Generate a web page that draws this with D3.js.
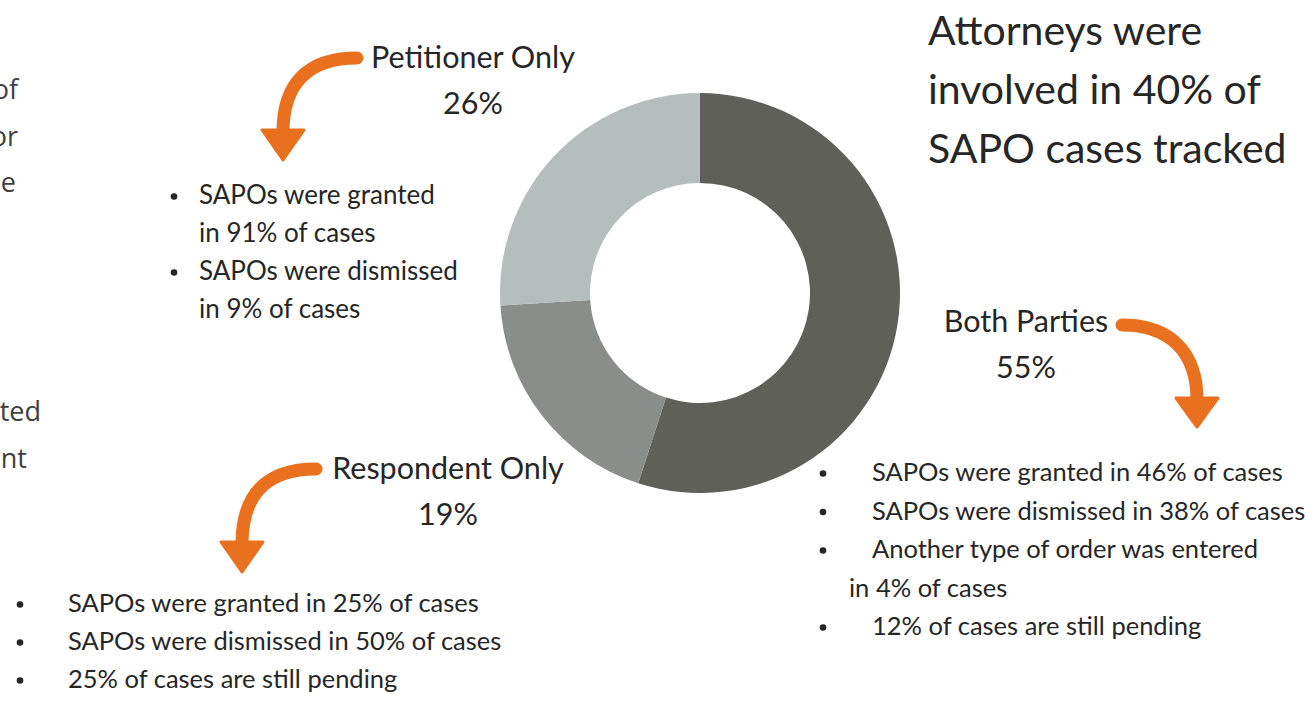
<!DOCTYPE html>
<html>
<head>
<meta charset="utf-8">
<script src="https://cdn.jsdelivr.net/npm/d3@7"></script>
<style>
  html, body { margin: 0; padding: 0; background: #fff; }
  svg { display: block; }
  text { font-family: "Lato", "Open Sans", sans-serif; fill: #262626; }
  .cut { font-family: "Open Sans", sans-serif; fill: #404040; }
</style>
</head>
<body>
<div id="chart"></div>
<script>
// who had an attorney, share of tracked SAPO cases
const parties = ["Both Parties", "Respondent Only", "Petitioner Only"]
const shares = [55, 19, 26]
const sliceColors = ["#5f605a", "#8a8e8a", "#b5bdbd"]

// outcomes per group, each item is [first line, ...wrapped lines]
const bothOutcomes = [
    ["SAPOs were granted in 46% of cases"],
    ["SAPOs were dismissed in 38% of cases"],
    ["Another type of order was entered", "in 4% of cases"],
    ["12% of cases are still pending"]
]
const respondentOutcomes = [
    ["SAPOs were granted in 25% of cases"],
    ["SAPOs were dismissed in 50% of cases"],
    ["25% of cases are still pending"]
]
const petitionerOutcomes = [
    ["SAPOs were granted", "in 91% of cases"],
    ["SAPOs were dismissed", "in 9% of cases"]
]

const titleLines = ["Attorneys were", "involved in 40% of", "SAPO cases tracked"]

// bits of a text box that runs off the left edge of the slide
const cutLines = [
    { t: "of", y: 99 }, { t: "or", y: 146 }, { t: "e", y: 192 },
    { t: "ted", y: 421 }, { t: "nt", y: 468 }
]

const width = 1314, height = 708
const orange = "#e8701f"

const svg = d3.select("#chart").append("svg")
    .attr("width", width)
    .attr("height", height)

// donut
const cx = 700, cy = 293
const pie = d3.pie().sort(null).value(d => d)
const arc = d3.arc().innerRadius(110).outerRadius(200)

svg.append("g")
    .attr("transform", `translate(${cx},${cy})`)
    .selectAll("path")
    .data(pie(shares))
    .join("path")
    .attr("d", arc)
    .attr("fill", (d, i) => sliceColors[i])

// title
svg.append("text")
    .attr("x", 928)
    .attr("font-size", 41)
    .attr("fill", "#111")
    .selectAll("tspan")
    .data(titleLines)
    .join("tspan")
    .attr("x", 928)
    .attr("y", (d, i) => 45 + i * 59)
    .text(d => d)

// slice labels
const labelSpots = [
    { x: 1026, y: 332 },
    { x: 448, y: 479 },
    { x: 473, y: 68 }
]
parties.forEach((p, i) => {
    const g = svg.append("text")
        .attr("text-anchor", "middle")
        .attr("font-size", 30.5)
    g.append("tspan").attr("x", labelSpots[i].x).attr("y", labelSpots[i].y).text(p)
    g.append("tspan").attr("x", labelSpots[i].x).attr("y", labelSpots[i].y + 46).text(shares[i] + "%")
})

// curved arrows from label down to the outcome list
const arrows = [
    { from: [1122, 325], c1: [1170, 325], c2: [1197, 352], to: [1197, 398], tip: 427 },
    { from: [316, 469], c1: [266, 469], c2: [242, 495], to: [242, 542], tip: 572 },
    { from: [357, 58], c1: [307, 58], c2: [283, 84], to: [283, 130], tip: 160 }
]
arrows.forEach(a => {
    const p = d3.path()
    p.moveTo(...a.from)
    p.bezierCurveTo(...a.c1, ...a.c2, a.to[0], a.to[1] + 2)
    svg.append("path")
        .attr("d", p.toString())
        .attr("fill", "none")
        .attr("stroke", orange)
        .attr("stroke-width", 13)
        .attr("stroke-linecap", "round")

    const h = d3.path()
    h.moveTo(a.to[0] - 21, a.to[1])
    h.lineTo(a.to[0] + 21, a.to[1])
    h.lineTo(a.to[0], a.tip)
    h.closePath()
    svg.append("path")
        .attr("d", h.toString())
        .attr("fill", orange)
        .attr("stroke", orange)
        .attr("stroke-width", 3)
        .attr("stroke-linejoin", "round")
})

// bulleted lists
const drawList = (items, opt) => {
    let row = 0
    items.forEach(lines => {
        lines.forEach((line, j) => {
            const y = opt.y + row * opt.step
            if (j === 0) {
                svg.append("circle")
                    .attr("cx", opt.bx)
                    .attr("cy", y - 7.5)
                    .attr("r", 3.3)
                    .attr("fill", "#262626")
            }
            svg.append("text")
                .attr("x", j === 0 ? opt.tx : opt.wx)
                .attr("y", y)
                .attr("font-size", opt.size)
                .text(line)
            row++
        })
    })
}

drawList(petitionerOutcomes, { bx: 174, tx: 199, wx: 199, y: 204, step: 38, size: 26 })
drawList(respondentOutcomes, { bx: 20, tx: 68, wx: 68, y: 612, step: 38, size: 25.5 })
drawList(bothOutcomes, { bx: 823, tx: 872, wx: 849, y: 481, step: 38.5, size: 25.5 })

// clipped text at the left edge
svg.selectAll("text.cut")
    .data(cutLines)
    .join("text")
    .attr("class", "cut")
    .attr("x", d => d.t === "ted" ? 41 : d.t === "nt" ? 27 : d.t === "e" ? 16 : 18)
    .attr("y", d => d.y)
    .attr("text-anchor", "end")
    .attr("font-size", 27)
    .text(d => d.t)
</script>
</body>
</html>
